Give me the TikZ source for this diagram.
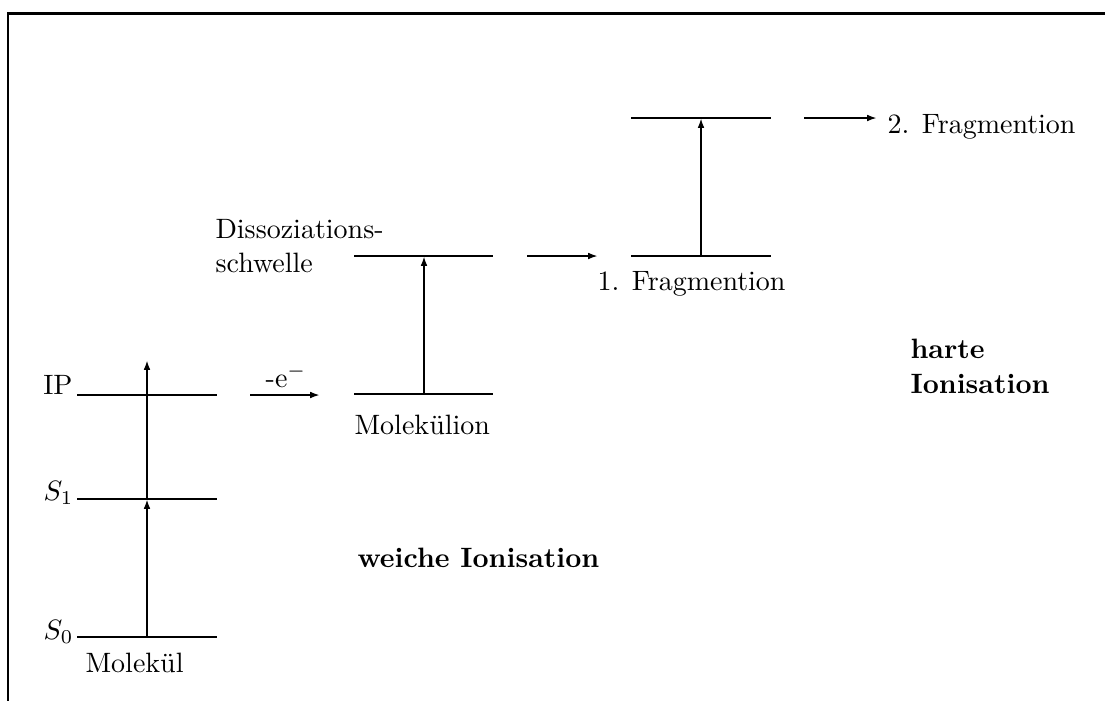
\documentclass[tikz,border=0pt]{standalone}
\usetikzlibrary{arrows.meta}
\begin{document}
\begin{tikzpicture}[x=0.3571pt,y=-0.3571pt,
  level/.style={line width=0.7pt},
  up/.style={line width=0.7pt,-{Latex[length=3.5pt,width=2.4pt]}},
  lbl/.style={inner sep=0pt,font=\normalsize},
  blbl/.style={inner sep=0pt,font=\bfseries}]
\useasboundingbox (0,0) rectangle (1105,700);
\draw[line width=1pt] (8,730) -- (8,13.5) -- (1120,13.5);
% coordinates
\coordinate (s0l) at (77,637); \coordinate (s0r) at (217,637);
\coordinate (s1l) at (77,499); \coordinate (s1r) at (217,499);
\coordinate (ipl) at (77,395); \coordinate (ipr) at (217,395);
\coordinate (a0) at (147,637); \coordinate (a1) at (147,499); \coordinate (a2) at (147,360);
\coordinate (mil) at (354,394); \coordinate (mir) at (493,394);
\coordinate (dsl) at (354,256); \coordinate (dsr) at (493,256);
\coordinate (b0) at (424,394); \coordinate (b1) at (424,256);
\coordinate (f1l) at (631,256); \coordinate (f1r) at (771,256);
\coordinate (f2l) at (631,118); \coordinate (f2r) at (771,118);
\coordinate (c0) at (701,256); \coordinate (c1) at (701,118);
\coordinate (e0) at (250,395); \coordinate (e1) at (320,395);
\coordinate (g0) at (527,256); \coordinate (g1) at (598,256);
\coordinate (h0) at (804,118); \coordinate (h1) at (877,118);
% levels
\draw[level] (s0l) -- (s0r);
\draw[level] (s1l) -- (s1r);
\draw[level] (ipl) -- (ipr);
\draw[level] (mil) -- (mir);
\draw[level] (dsl) -- (dsr);
\draw[level] (f1l) -- (f1r);
\draw[level] (f2l) -- (f2r);
% arrows
\draw[up] (a0) -- (a1);
\draw[up] (a1) -- (a2);
\draw[up] (b0) -- (b1);
\draw[up] (c0) -- (c1);
\draw[up] (e0) -- (e1);
\draw[up] (g0) -- (g1);
\draw[up] (h0) -- (h1);
% labels
\node[lbl,anchor=base east] (tip) at (73,394) {IP};
\node[lbl,anchor=base east] (ts1) at (74,500) {$S_1$};
\node[lbl,anchor=base east] (ts0) at (74,639) {$S_0$};
\node[lbl,anchor=base west] (tmol) at (85,672) {Molekül};
\node[lbl,anchor=base] (te) at (286,387) {-e$^-$};
\node[lbl,anchor=base west] (tmi) at (354,434) {Molekülion};
\node[lbl,anchor=base west] (td1) at (215,238) {Dissoziations-};
\node[lbl,anchor=base west] (td2) at (215,272) {schwelle};
\node[lbl,anchor=base west] (tf1) at (597,290) {1. Fragmention};
\node[lbl,anchor=base west] (tf2) at (887,133) {2. Fragmention};
\node[blbl,anchor=base west] (th1) at (910,358) {harte};
\node[blbl,anchor=base west] (th2) at (910,393) {Ionisation};
\node[blbl,anchor=base west] (tw) at (357,567) {weiche Ionisation};
\end{tikzpicture}
\end{document}
